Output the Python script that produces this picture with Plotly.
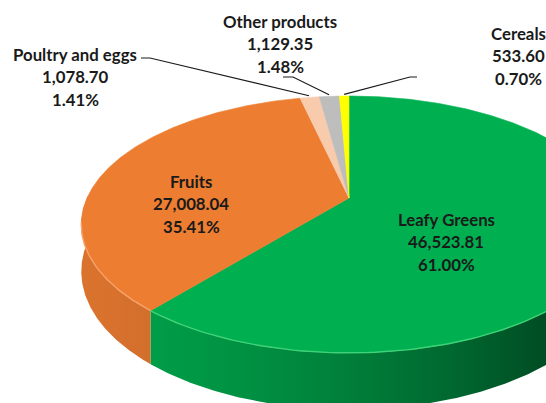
import numpy as np
import plotly.graph_objects as go

# Sales by product group
categories = ["Leafy Greens", "Fruits", "Poultry and eggs", "Other products", "Cereals"]
values = [46523.81, 27008.04, 1078.70, 1129.35, 533.60]

# Slice styling
top_colors = ["#00B050", "#ED7D31", "#F8CBAD", "#BDBDBD", "#FFFF00"]
rim_colors = ["#3FD277", "#F7A36B", "#FBDCC8", "#D8D8D8", "#FFFF80"]

# Label placement (text centre x, first line y) and leader-line anchors
label_pos = {
    "Leafy Greens": (446, 219),
    "Fruits": (191, 181),
    "Poultry and eggs": (75, 54),
    "Other products": (280, 21),
    "Cereals": (518, 33),
}
leaders = {
    "Poultry and eggs": [(141, 58), (150, 58)],
    "Other products": [(283, 77), (293, 77)],
    "Cereals": [(417, 77), (410, 77)],
}

# Perspective disc geometry (pixel space)
CX, CY = 349, 198
A, B = 262, 123
K = 0.206
DEPTH = 45
W, H = 546, 403


def proj(theta_deg, r=1.0, dz=0.0):
    t = np.radians(theta_deg)
    u = r * np.sin(t)
    v = r * np.cos(t)
    w = 1 + K * v
    return CX + A * u / w, CY - B * v / w + dz / w


def shade(hex_color, f):
    h = hex_color.lstrip("#")
    r, g, b = (int(h[i:i + 2], 16) for i in (0, 2, 4))
    return "rgb({},{},{})".format(*(max(0, min(255, int(round(c * f)))) for c in (r, g, b)))


def side_scale(hex_color):
    # darker towards the right, as if lit from the left
    stops = []
    for s in np.linspace(0, 1, 12):
        u = np.clip((s * W - CX) / A, -1, 1)
        f = 0.72 - 0.30 * u - 0.10 * u * u
        stops.append([float(s), shade(hex_color, f)])
    return stops


total = sum(values)
fracs = [v / total for v in values]
starts = np.concatenate([[0.0], np.cumsum(fracs)[:-1]]) * 360
ends = np.cumsum(fracs) * 360

fig = go.Figure()

# Side walls (front half only), one gradient-filled band per slice
for i in range(len(values)):
    angs = np.linspace(starts[i], ends[i], 400)
    v = np.cos(np.radians(angs))
    angs = angs[v < 0.02]
    if len(angs) < 2:
        continue
    xt, yt = proj(angs)
    xb, yb = proj(angs[::-1], dz=DEPTH)
    xs = np.concatenate([xt, xb, xt[:1]])
    ys = np.concatenate([yt, yb, yt[:1]])
    fig.add_trace(go.Scatter(
        x=xs, y=ys, mode="lines", fill="toself",
        fillgradient=dict(type="horizontal", colorscale=side_scale(top_colors[i]),
                          start=0, stop=W),
        line=dict(width=0), hoverinfo="skip", showlegend=False))

# Top faces
for i, name in enumerate(categories):
    angs = np.linspace(starts[i], ends[i], max(3, int((ends[i] - starts[i]) / 0.5)))
    xs, ys = proj(angs)
    xs = np.concatenate([[CX], xs, [CX]])
    ys = np.concatenate([[CY], ys, [CY]])
    fig.add_trace(go.Scatter(
        x=xs, y=ys, mode="lines", fill="toself", fillcolor=top_colors[i],
        line=dict(color=top_colors[i], width=0.6), name=name,
        hoverinfo="name", showlegend=False))

# Light bevel along the front rim
for i in range(len(values)):
    angs = np.linspace(starts[i], ends[i], 200)
    v = np.cos(np.radians(angs))
    angs = angs[v < -K + 0.02]
    if len(angs) < 2:
        continue
    xs, ys = proj(angs)
    fig.add_trace(go.Scatter(
        x=xs, y=ys, mode="lines", line=dict(color=rim_colors[i], width=1.4),
        hoverinfo="skip", showlegend=False))

# Leader lines from outer labels to their slices
for i, name in enumerate(categories):
    if name not in leaders:
        continue
    mid = 0.5 * (starts[i] + ends[i])
    ex, ey = proj(mid, r=1.02)
    pts = leaders[name] + [(ex, ey)]
    fig.add_trace(go.Scatter(
        x=[p[0] for p in pts], y=[p[1] for p in pts], mode="lines",
        line=dict(color="#1a1a1a", width=1.2), hoverinfo="skip", showlegend=False))

# Data labels: name, value, percentage
annotations = []
for i, name in enumerate(categories):
    lx, ly = label_pos[name]
    lines = [name, f"{values[i]:,.2f}", f"{fracs[i] * 100:.2f}%"]
    for k, txt in enumerate(lines):
        annotations.append(dict(
            x=lx, y=ly + 22.5 * k, text=f"<b>{txt}</b>", showarrow=False,
            xanchor="center", yanchor="middle",
            font=dict(family="Lato", size=16.8, color="#1a1a1a")))

fig.update_layout(
    width=W, height=H,
    margin=dict(l=0, r=0, t=0, b=0),
    paper_bgcolor="white", plot_bgcolor="white",
    xaxis=dict(range=[0, W], visible=False, fixedrange=True),
    yaxis=dict(range=[H, 0], visible=False, fixedrange=True),
    annotations=annotations,
    showlegend=False,
)

fig.write_html("out.html")
